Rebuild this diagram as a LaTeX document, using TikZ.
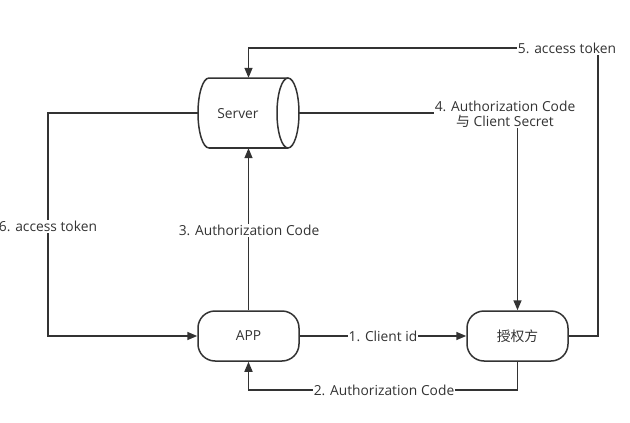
\documentclass[tikz,border=0pt]{standalone}
\usepackage{fontspec}
\setmainfont{Open Sans}
\newfontfamily\cjk{Noto Sans CJK SC}
\usetikzlibrary{arrows.meta}
\definecolor{ink}{HTML}{333333}
\begin{document}
\begin{tikzpicture}[x=1pt,y=-1pt,
  every node/.style={font=\fontsize{13.8}{15}\selectfont, text=ink},
  conn/.style={draw=ink, line width=1.5pt},
  arr/.style={conn, -{Triangle[length=10pt,width=8pt]}},
  pill/.style={draw=ink, line width=1.5pt, rounded corners=17pt, minimum width=101pt, minimum height=50pt, inner sep=0pt},
  lbl/.style={fill=white, inner sep=1pt, align=center},
  box/.style={minimum width=101pt, minimum height=70pt, inner sep=0pt},
  cylline/.style={draw=ink, line width=1.5pt}
]
\useasboundingbox (0,0) rectangle (630,423);
\node[box] (server) at (248.5,113) {};
\draw[cylline] (209,148) arc[start angle=90,end angle=270,x radius=11,y radius=35]
  -- (288,78);
\draw[cylline] (209,148) -- (288,148);
\draw[cylline] (288,113) ellipse[x radius=11,y radius=35];
\node (servertext) at (238,113.5) {Server};
\node[pill] (app) at (248.5,336) {APP};
\node[pill] (auth) at (517.5,336) {\cjk 授权方};

\coordinate (c2a) at (517.5,390);
\coordinate (c2b) at (248.5,390);
\coordinate (c5a) at (598,336);
\coordinate (c5b) at (598,48);
\coordinate (c5c) at (248.5,48);
\coordinate (c6a) at (48,113);
\coordinate (c6b) at (48,336);
\coordinate (c4a) at (517.5,113);

\draw[arr] (app.east) -- (auth.west);
\draw[arr] (auth.south) -- (c2a) -- (c2b) -- (app.south);
\draw[arr] (app.north) -- (server.south);
\draw[arr] (server.east) -- (c4a) -- (auth.north);
\draw[arr] (auth.east) -- (c5a) -- (c5b) -- (c5c) -- (server.north);
\draw[arr] (server.west) -- (c6a) -- (c6b) -- (app.west);

\node[lbl] (l1) at (383,336.5) {1. Client id};
\node[lbl] (l2) at (384,390.5) {2. Authorization Code};
\node[lbl] (l3) at (249,230.5) {3. Authorization Code};
\node[lbl] (l4) at (505,114) {4. Authorization Code\\{\cjk 与} Client Secret};
\node[lbl] (l5) at (567,48.5) {5. access token};
\node[lbl] (l6) at (48,226.5) {6. access token};
\end{tikzpicture}
\end{document}
